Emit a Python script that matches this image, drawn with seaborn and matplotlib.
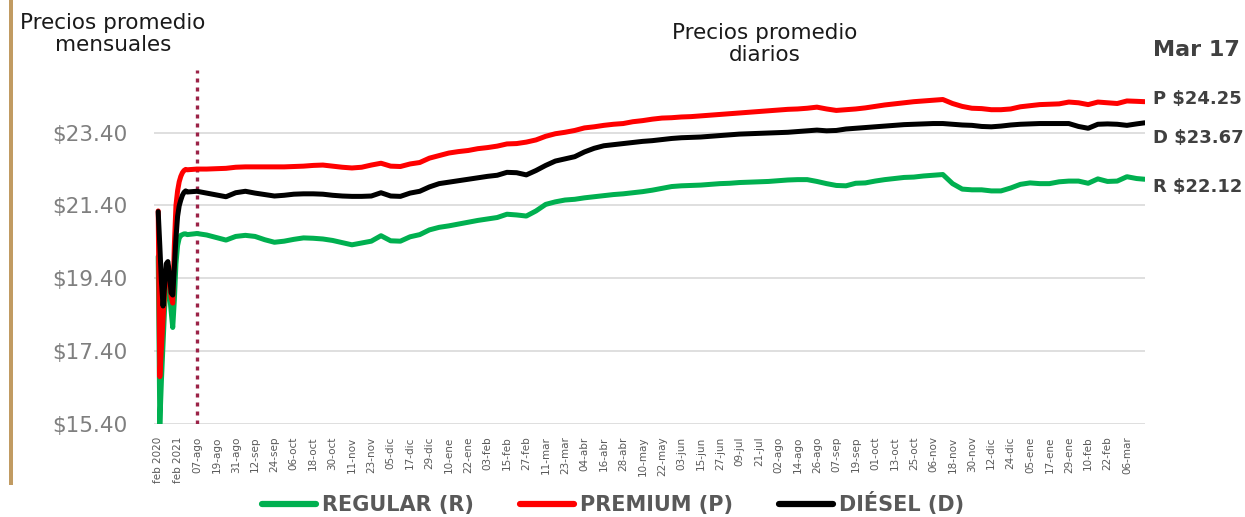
"""Precios promedio de gasolinas y diésel: mensuales y diarios."""

import matplotlib

matplotlib.use("Agg")

import matplotlib.pyplot as plt
import pandas as pd
import seaborn as sns
from matplotlib.patches import Rectangle

# monthly averages, feb 2020 - jul 2021
month_start = "2020-02-01"
n_months = 18
regular_monthly = [20.0, 15.4, 16.6, 17.6, 18.6, 19.2, 19.4, 19.0, 18.5, 18.05,
                   18.8, 19.8, 20.3, 20.5, 20.58, 20.6, 20.62, 20.62]
premium_monthly = [21.25, 16.7, 17.5, 18.3, 19.0, 19.6, 19.75, 19.4, 18.9, 18.72,
                   20.3, 21.4, 21.8, 22.05, 22.2, 22.3, 22.36, 22.39]
diesel_monthly = [21.23, 20.3, 19.3, 18.64, 19.2, 19.8, 19.86, 19.5, 19.0, 18.94,
                  19.7, 20.5, 21.1, 21.39, 21.55, 21.68, 21.76, 21.8]

# daily prices, read every 6 days from 2021-08-01, last value on 2023-03-17
daily_start = "2021-08-01"
daily_end = "2023-03-17"
regular_daily = [
    20.60, 20.63, 20.59, 20.52, 20.45, 20.55, 20.58, 20.55, 20.46, 20.39,
    20.42, 20.47, 20.51, 20.50, 20.48, 20.44, 20.38, 20.32, 20.37, 20.42,
    20.57, 20.43, 20.42, 20.54, 20.60, 20.73, 20.80, 20.84, 20.89, 20.94,
    20.99, 21.03, 21.07, 21.16, 21.14, 21.11, 21.25, 21.43, 21.50, 21.55,
    21.57, 21.61, 21.64, 21.67, 21.70, 21.72, 21.75, 21.78, 21.82, 21.87,
    21.92, 21.94, 21.95, 21.96, 21.98, 22.00, 22.01, 22.03, 22.04, 22.05,
    22.06, 22.08, 22.10, 22.11, 22.11, 22.06, 22.00, 21.95, 21.94, 22.01,
    22.02, 22.07, 22.11, 22.14, 22.17, 22.18, 22.21, 22.23, 22.25, 22.00,
    21.85, 21.83, 21.83, 21.80, 21.80, 21.88, 21.98, 22.02, 22.00, 22.00,
    22.05, 22.07, 22.07, 22.01, 22.13, 22.06, 22.07, 22.19, 22.14, 22.12,
]
premium_daily = [
    22.38, 22.40, 22.40, 22.41, 22.42, 22.45, 22.46, 22.46, 22.46, 22.46,
    22.46, 22.47, 22.48, 22.50, 22.51, 22.48, 22.45, 22.43, 22.45, 22.51,
    22.56, 22.48, 22.47, 22.54, 22.58, 22.70, 22.77, 22.84, 22.88, 22.91,
    22.96, 22.99, 23.03, 23.09, 23.10, 23.14, 23.20, 23.30, 23.37, 23.41,
    23.46, 23.53, 23.56, 23.60, 23.63, 23.65, 23.70, 23.73, 23.77, 23.80,
    23.81, 23.83, 23.84, 23.86, 23.88, 23.90, 23.92, 23.94, 23.96, 23.98,
    24.00, 24.02, 24.04, 24.05, 24.07, 24.10, 24.05, 24.01, 24.03, 24.05,
    24.08, 24.12, 24.16, 24.19, 24.22, 24.25, 24.27, 24.29, 24.31, 24.20,
    24.12, 24.07, 24.06, 24.03, 24.03, 24.05, 24.11, 24.14, 24.17, 24.18,
    24.19, 24.24, 24.22, 24.17, 24.24, 24.22, 24.20, 24.27, 24.26, 24.25,
]
diesel_daily = [
    21.77, 21.79, 21.74, 21.69, 21.64, 21.75, 21.79, 21.74, 21.70, 21.66,
    21.68, 21.71, 21.72, 21.72, 21.71, 21.68, 21.66, 21.65, 21.65, 21.66,
    21.75, 21.66, 21.65, 21.74, 21.79, 21.91, 22.00, 22.04, 22.08, 22.12,
    22.16, 22.20, 22.23, 22.31, 22.30, 22.24, 22.36, 22.50, 22.62, 22.68,
    22.74, 22.87, 22.97, 23.04, 23.07, 23.10, 23.13, 23.16, 23.18, 23.21,
    23.24, 23.26, 23.27, 23.28, 23.30, 23.32, 23.34, 23.36, 23.37, 23.38,
    23.39, 23.40, 23.41, 23.43, 23.45, 23.47, 23.45, 23.46, 23.50, 23.52,
    23.54, 23.56, 23.58, 23.60, 23.62, 23.63, 23.64, 23.65, 23.65, 23.63,
    23.61, 23.60, 23.57, 23.56, 23.58, 23.61, 23.63, 23.64, 23.65, 23.65,
    23.65, 23.65, 23.57, 23.52, 23.63, 23.64, 23.63, 23.60, 23.64, 23.67,
]

fuels = ["REGULAR (R)", "PREMIUM (P)", "DIÉSEL (D)"]
fuel_colors = ["#00B050", "#FF0000", "#000000"]

tick_labels = [
    "feb 2020", "feb 2021", "07-ago", "19-ago", "31-ago", "12-sep", "24-sep",
    "06-oct", "18-oct", "30-oct", "11-nov", "23-nov", "05-dic", "17-dic",
    "29-dic", "10-ene", "22-ene", "03-feb", "15-feb", "27-feb", "11-mar",
    "23-mar", "04-abr", "16-abr", "28-abr", "10-may", "22-may", "03-jun",
    "15-jun", "27-jun", "09-jul", "21-jul", "02-ago", "14-ago", "26-ago",
    "07-sep", "19-sep", "01-oct", "13-oct", "25-oct", "06-nov", "18-nov",
    "30-nov", "12-dic", "24-dic", "05-ene", "17-ene", "29-ene", "10-feb",
    "22-feb", "06-mar",
]
y_ticks = [15.4, 17.4, 19.4, 21.4, 23.4]
last_labels = ["P $24.25", "D $23.67", "R $22.12"]

# category positions: one slot per month, then one slot per day
daily_dates = pd.date_range(daily_start, periods=len(regular_daily) - 1, freq="6D")
daily_dates = daily_dates.append(pd.DatetimeIndex([daily_end]))
daily_pos = n_months + (daily_dates - pd.Timestamp(daily_start)).days
monthly_pos = list(range(n_months))

frames = []
for fuel, monthly, daily in zip(
    fuels,
    [regular_monthly, premium_monthly, diesel_monthly],
    [regular_daily, premium_daily, diesel_daily],
):
    frames.append(pd.DataFrame({"pos": monthly_pos, "price": monthly, "fuel": fuel}))
    frames.append(pd.DataFrame({"pos": list(daily_pos), "price": daily, "fuel": fuel}))
df = pd.concat(frames, ignore_index=True)

sns.set_style("white")
plt.rcParams["font.family"] = ["DejaVu Sans"]

W, H = 1245, 517
fig = plt.figure(figsize=(W / 100, H / 100), dpi=100)
ax = fig.add_axes([154 / W, 93 / H, 991 / W, 354 / H])

sns.lineplot(
    data=df,
    x="pos",
    y="price",
    hue="fuel",
    hue_order=fuels,
    palette=fuel_colors,
    linewidth=3.6,
    sort=True,
    estimator=None,
    ax=ax,
)

ax.axvline(24, color="#9B2247", linewidth=2.4, linestyle=(0, (1.2, 1.5)), zorder=1)

ax.set_xlim(-2.6, 611.2)
ax.set_ylim(15.4, 25.12)
ax.set_yticks(y_ticks)
ax.set_yticklabels([f"${v:.2f}" for v in y_ticks], fontsize=15.5, color="#7f7f7f")
ax.set_xticks(range(0, 12 * len(tick_labels), 12))
ax.set_xticklabels(tick_labels, rotation=90, fontsize=7.5, color="#595959")
ax.tick_params(axis="y", length=0, pad=19)
ax.tick_params(axis="x", length=0, pad=9)
ax.set_xlabel("")
ax.set_ylabel("")
ax.yaxis.grid(True, color="#d9d9d9", linewidth=1.2)
ax.set_axisbelow(True)
sns.despine(ax=ax, left=True, bottom=True)

sns.move_legend(
    ax,
    "center",
    bbox_to_anchor=(0.4924, 0.026),
    bbox_transform=fig.transFigure,
    ncol=3,
    frameon=False,
    title=None,
    fontsize=15,
    handlelength=2.6,
    handletextpad=0.3,
    columnspacing=2.2,
)
leg = ax.get_legend()
for txt in leg.get_texts():
    txt.set_fontweight("bold")
    txt.set_color("#595959")
for line in leg.get_lines():
    line.set_linewidth(4.5)

fig.text(113 / W, 1 - 34 / H, "Precios promedio\nmensuales", ha="center", va="center",
         fontsize=15.5, color="#1a1a1a", linespacing=1.15)
fig.text(765 / W, 1 - 44 / H, "Precios promedio\ndiarios", ha="center", va="center",
         fontsize=15.5, color="#1a1a1a", linespacing=1.15)
fig.text(1153 / W, 1 - 50 / H, "Mar 17", ha="left", va="center", fontsize=16,
         fontweight="bold", color="#404040")
for label, y_px in zip(last_labels, [99, 138, 187]):
    fig.text(1153 / W, 1 - y_px / H, label, ha="left", va="center", fontsize=13,
             fontweight="bold", color="#404040")

fig.add_artist(Rectangle((9 / W, 32 / H), 3.5 / W, 485 / H, transform=fig.transFigure,
                         color="#C19B62", linewidth=0))

fig.savefig("out.png", dpi=100)
